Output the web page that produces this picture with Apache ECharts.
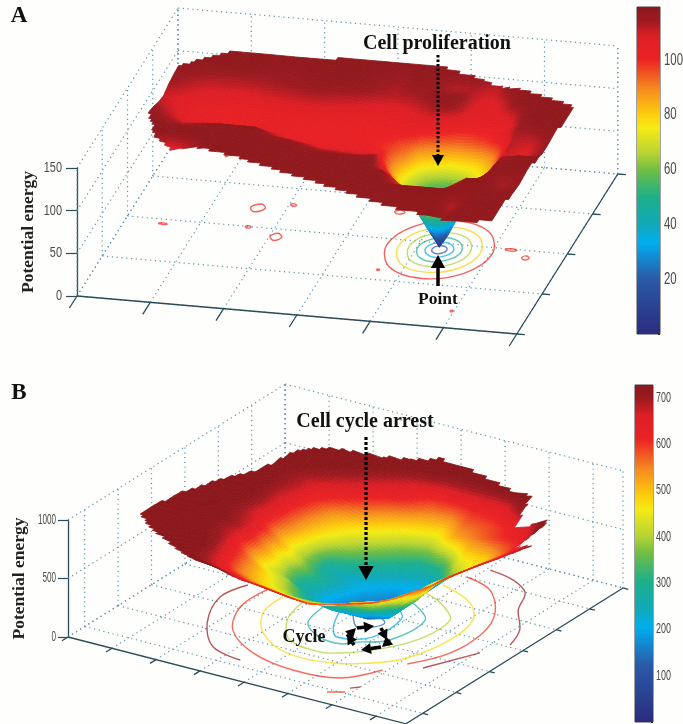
<!DOCTYPE html>
<html>
<head>
<meta charset="utf-8">
<script src="https://cdn.jsdelivr.net/npm/echarts@6/dist/echarts.min.js"></script>
<style>
html,body{margin:0;padding:0;background:#fefefd}
#main{width:683px;height:724px;filter:blur(0.45px)}
</style>
</head>
<body>
<div id="main"></div>
<script>
// ---------- Panel A data ----------
const uTicksA = [0,1,2,3,4,5,6];
const vTicksA = [0,1,2,3,4];
const zTicksA = [0,50,100,150];
const colorbarTicksA = [20,40,60,80,100];
const colorMaxA = 119.4;
const uGridA = [0.25,0.75,1.25,1.75,2.25,2.75,3.25,3.5,3.75,3.9,4.05,4.2,4.31,4.42,4.55,4.7,4.9,5.15,5.4,5.75];
const vGridA = [3.8,3.4,3.1,2.9,2.7,2.5,2.3,2.15,1.98,1.84,1.7,1.5,1.2,0.9,0.6,0.1];
const zGridA = [
[118,118,118,118,118,118,118,118,118,118,118,118,118,118,118,118,118,118,118,118],
[118,118,118,116,118,118,114,117,116,113,112,113,112,110,110,115,118,118,118,118],
[116,112,112,114,116,115,112,113,116,117,117,115,110,107,106,108,116,118,118,118],
[114,108,107,110,112,110,107,108,112,115,116,113,108,106,105,107,108,118,118,118],
[110,105,104,105,106,105,104,105,107,108,106,104,103,102,102,103,103,116,118,118],
[112,104,103,104,103,103,103,103,103,100,98,96,94,94,96,98,104,114,115,118],
[116,104,103,104,103,103,102,100,94,85,82,76,74,75,78,80,90,112,110,118],
[118,108,110,106,103,103,102,98,90,76,63,55,52,54,62,73,85,112,108,118],
[118,114,118,118,104,103,104,100,82,66,50,30,22,30,44,64,80,110,108,118],
[118,118,118,118,114,106,106,104,78,62,42,17,3,17,38,58,82,114,118,118],
[118,118,118,118,118,112,110,112,84,66,50,30,22,30,44,64,88,116,118,118],
[118,106,118,118,118,118,118,118,100,80,66,56,54,56,64,76,96,118,118,118],
[118,118,118,118,118,118,118,118,118,110,100,92,90,92,96,108,118,118,113,118],
[118,118,118,118,118,118,118,118,118,118,118,118,118,118,118,118,118,118,118,118],
[118,118,118,118,118,118,118,118,118,118,118,118,118,118,118,118,112,118,118,118],
[118,118,118,118,118,118,118,118,118,118,118,118,118,118,118,118,118,118,118,118]
];
const surfaceEdgeA = [[0.26,2.09],[0.26,2.7],[0.26,3.29],[0.83,3.71],[2.31,3.77],[3.67,3.79],[4.28,3.62],[4.70,3.49],[5.71,3.12],[5.59,0.61],[5.55,0.22],[5.02,0.18],[4.14,0.37],[3.36,0.67],[2.73,0.89],[1.81,1.22],[0.79,1.51],[0.52,1.6]];
const contourLevelsA = [100,80,65,50,33,17];
const contourRingsA = [
[[5.03,1.84],[4.82,2.35],[4.31,2.56],[3.80,2.35],[3.59,1.84],[3.80,1.33],[4.31,1.12],[4.82,1.33]],
[[4.87,1.84],[4.71,2.24],[4.31,2.40],[3.91,2.24],[3.75,1.84],[3.91,1.44],[4.31,1.28],[4.71,1.44]],
[[4.73,1.84],[4.61,2.14],[4.31,2.26],[4.01,2.14],[3.89,1.84],[4.01,1.54],[4.31,1.42],[4.61,1.54]],
[[4.61,1.84],[4.52,2.05],[4.31,2.14],[4.10,2.05],[4.01,1.84],[4.10,1.63],[4.31,1.54],[4.52,1.63]],
[[4.50,1.84],[4.44,1.97],[4.31,2.03],[4.18,1.97],[4.12,1.84],[4.18,1.71],[4.31,1.65],[4.44,1.71]],
[[4.41,1.84],[4.38,1.91],[4.31,1.94],[4.24,1.91],[4.21,1.84],[4.24,1.77],[4.31,1.74],[4.38,1.77]]
];
const contourSpotsA = [
[[1.72,2.46],[1.64,2.56],[1.52,2.46],[1.60,2.36]],
[[2.17,1.81],[2.09,1.90],[2.01,1.81],[2.09,1.72]],
[[1.69,1.99],[1.65,2.02],[1.61,1.99],[1.65,1.96]],
[[0.58,1.89],[0.52,1.91],[0.46,1.89],[0.52,1.87]],
[[2.10,2.60],[2.06,2.63],[2.02,2.60],[2.06,2.57]],
[[0.81,3.63],[0.79,3.65],[0.77,3.63],[0.79,3.61]],
[[3.56,2.65],[3.49,2.70],[3.42,2.65],[3.49,2.60]],
[[5.32,1.98],[5.24,2.01],[5.16,1.98],[5.24,1.95]],
[[5.54,1.82],[5.49,1.87],[5.44,1.82],[5.49,1.77]],
[[3.70,1.24],[3.68,1.26],[3.66,1.24],[3.68,1.22]],
[[4.99,0.41],[4.97,0.43],[4.95,0.41],[4.97,0.39]]
];
// ---------- Panel B data ----------
const uTicksB = [0,1,2,3,4,5,6,7];
const vTicksB = [0.5,1.5,2.5,3.5,4.5,5.5,6.5];
const zTicksB = [0,500,1000];
const colorbarTicksB = [100,200,300,400,500,600,700];
const colorMaxB = 728;
const uGridB = [0.25,1.25,2,2.75,3.25,3.75,4.25,4.73,5.2,5.7,6.2,6.7,7.2,7.7];
const vGridB = [6.15,5.5,5.1,4.7,4.3,3.9,3.5,3.2,2.95,2.75,2.55,2.3,2,1.5,1,0.6,0.2];
const zGridB = [
[800,800,800,800,800,800,800,800,800,800,800,800,800,800],
[800,800,780,730,690,650,620,625,630,640,720,800,800,800],
[800,780,725,670,635,605,540,520,580,590,620,680,800,800],
[800,740,670,620,570,500,450,420,520,560,600,620,760,800],
[800,740,660,530,470,430,350,280,300,470,480,590,700,800],
[800,760,640,500,415,330,260,220,190,360,487,607,709,800],
[800,780,640,470,270,230,210,170,240,393,513,641,760,800],
[800,765,633,440,300,250,180,150,240,410,538,658,778,800],
[800,750,660,480,340,230,165,130,170,340,550,667,795,800],
[800,760,670,450,290,220,150,120,170,350,550,690,800,800],
[800,770,680,480,300,220,170,170,250,380,560,700,800,800],
[800,760,670,450,390,260,230,270,320,470,590,718,800,800],
[800,780,690,520,430,330,340,380,440,500,600,730,800,800],
[800,760,730,560,490,460,440,460,520,570,650,760,800,800],
[800,790,730,660,620,600,570,560,600,650,718,800,800,800],
[800,800,790,780,720,700,700,660,680,710,780,800,800,800],
[800,800,800,800,800,800,780,770,790,800,800,800,800,800]
];
const surfaceEdgeB = [[0.36,1.68],[0.49,2.8],[0.86,3.81],[0.98,4.16],[1.18,5.09],[1.41,5.39],[1.91,5.63],[3.2,5.94],[3.8,6.13],[4.59,6.07],[5.74,5.88],[6.11,5.84],[6.3,5.08],[6.91,5.17],[7.07,5.02],[6.79,4.44],[7.31,4.29],[6.83,3.93],[6.78,3.71],[6.3,2.64],[5.73,1.37],[4.63,0.84],[3.47,0.87],[2.51,0.65],[1.44,1.07],[0.96,1.29]];
const contourLevelsB = [700,700,700,700,600,600,600,480,400,280,200,130];
const contourPathsB = [
[[1.56,3.33],[1.42,2.68],[1.88,1.69],[2.59,0.93],[3.37,0.72]],
[[5.08,5.95],[5.71,5.81],[6.23,5.48],[6.56,4.84],[7.10,4.17],[7.33,3.58]],
[[6.52,2.04],[7.05,3.05]],
[[5.86,0.72],[6.00,0.85]],
[[1.99,3.33],[2.00,2.52],[2.48,1.67],[3.40,1.07],[4.47,0.84],[5.44,0.98],[5.92,1.62]],
[[6.16,2.04],[6.57,2.78],[6.58,3.75],[6.26,4.54],[5.59,5.27],[4.88,5.51]],
[[5.59,0.39],[5.88,0.55]],
[[2.43,3.23],[2.52,2.52],[3.04,1.84],[3.95,1.36],[4.94,1.43],[5.58,1.77],[6.00,2.24],[6.23,3.22],[6.09,4.10],[5.60,4.66],[4.70,5.03]],
[[2.88,3.23],[3.10,2.48],[3.65,1.83],[4.45,1.69],[4.80,1.83],[5.25,2.21],[5.70,2.94],[5.72,3.90],[5.12,4.40],[4.56,4.62]],
[[3.34,3.24],[3.50,2.57],[4.06,2.19],[4.56,2.14],[4.78,2.34],[5.26,2.70],[5.32,3.69],[4.68,4.16]],
[[3.69,3.29],[4.02,2.65],[4.33,2.34],[4.91,2.65],[4.89,3.56],[4.44,3.94]],
[[3.97,3.30],[4.40,2.85],[4.66,2.99],[4.74,3.24],[4.41,3.44]]
];

// ---------- Colour scale (as printed on the colour bars) ----------
const colorStops = [
[0,'#2a2c7e'],[0.17,'#2a5aa8'],[0.28,'#00aeef'],[0.335,'#10a9b8'],[0.42,'#1fb08a'],
[0.5,'#6ebd45'],[0.55,'#b5d334'],[0.63,'#f5ea14'],[0.67,'#fdcf0c'],[0.75,'#f58a20'],
[0.84,'#ec2224'],[0.91,'#dc1f26'],[0.96,'#9c1a20'],[1,'#8c181c']
];
const stopRGB = colorStops.map(s=>[s[0],parseInt(s[1].slice(1,3),16),parseInt(s[1].slice(3,5),16),parseInt(s[1].slice(5,7),16)]);
function colorFor(t){
  t=Math.max(0,Math.min(1,t));
  for(let i=1;i<stopRGB.length;i++){
    if(t<=stopRGB[i][0]){
      const a=stopRGB[i-1],b=stopRGB[i],f=(t-a[0])/(b[0]-a[0]);
      return 'rgb('+[1,2,3].map(k=>Math.round(a[k]+(b[k]-a[k])*f)).join(',')+')';
    }
  }
  return colorStops[colorStops.length-1][1];
}

// ---------- 3-D view of each panel: the box as MATLAB projected it ----------
const viewA = {ox:77,oy:296,ux:73.3,uy:6.33,vx:25.25,vy:-40,zy:-128/150,uMax:6,vMax:4,zMax:150,cMax:colorMaxA,
  uTicks:uTicksA,vTicks:vTicksA,zTicks:zTicksA,tickV:-0.3,tickU:0.11};
const viewB = {ox:68,oy:637,ux:44,uy:11.3,vx:33.4,vy:-20.9,zy:-0.117,uMax:7.68,vMax:6.5,zMax:1000,cMax:colorMaxB,
  uTicks:uTicksB,vTicks:vTicksB,zTicks:zTicksB,tickV:-0.18,tickU:0.12};
function project(view,u,v,z){
  return [view.ox+view.ux*u+view.vx*v, view.oy+view.uy*u+view.vy*v+view.zy*z];
}
function insideEdge(edge,u,v){
  let c=false;
  for(let i=0,j=edge.length-1;i<edge.length;j=i++){
    const a=edge[i],b=edge[j];
    if((a[1]>v)!==(b[1]>v) && u<(b[0]-a[0])*(v-a[1])/(b[1]-a[1])+a[0]) c=!c;
  }
  return c;
}

const baseSeries={type:'custom',coordinateSystem:'cartesian2d',xAxisIndex:0,yAxisIndex:0,silent:true,animation:false,clip:false,progressive:0};

function boxSegments(w){
  const s=[],dot='dot',ax='axis';
  w.uTicks.forEach(u=>{
    s.push([u,0,0,u,w.vMax,0,dot]);
    s.push([u,w.vMax,0,u,w.vMax,w.zMax,dot]);
    s.push([u,0,0,u,w.tickV,0,ax]);
  });
  w.vTicks.forEach(v=>{
    s.push([0,v,0,w.uMax,v,0,dot]);
    s.push([0,v,0,0,v,w.zMax,dot]);
    s.push([w.uMax,v,0,w.uMax+w.tickU,v,0,ax]);
  });
  w.zTicks.forEach(z=>{
    s.push([0,0,z,0,w.vMax,z,dot]);
    s.push([0,w.vMax,z,w.uMax,w.vMax,z,dot]);
  });
  s.push([0,w.vMax,0,0,w.vMax,w.zMax,dot]);
  s.push([w.uMax,w.vMax,0,w.uMax,w.vMax,w.zMax,dot]);
  s.push([0,0,0,w.uMax,0,0,ax]);
  s.push([w.uMax,0,0,w.uMax,w.vMax,0,ax]);
  return s;
}
function boxSeries(w){
  const segs=boxSegments(w);
  return Object.assign({},baseSeries,{
    data:segs.map((s,i)=>[i]),
    renderItem:(p,api)=>{
      const s=segs[api.value(0)];
      const a=api.coord(project(w,s[0],s[1],s[2])),b=api.coord(project(w,s[3],s[4],s[5]));
      const isDot=s[6]==='dot';
      return {type:'line',silent:true,shape:{x1:a[0],y1:a[1],x2:b[0],y2:b[1]},
        style:isDot?{stroke:'#5f93a6',lineWidth:1.2,lineDash:[1.2,3.6]}:{stroke:'#2c4d57',lineWidth:1.3}};
    }
  });
}
function contourSeries(w,paths,levels,closed){
  return Object.assign({},baseSeries,{
    data:paths.map((s,i)=>[i]),
    renderItem:(p,api)=>{
      const i=api.value(0);
      const pts=paths[i].map(q=>api.coord(project(w,q[0],q[1],0)));
      return {type:closed?'polygon':'polyline',silent:true,shape:{points:pts,smooth:closed?0.37:0.35},
        style:{fill:'none',stroke:colorFor(levels[i]/w.cMax),lineWidth:1.4,opacity:0.72}};
    }
  });
}
function surfaceSeries(w,uGrid,vGrid,zGrid,edge){
  const cells=[];
  for(let j=0;j<vGrid.length-1;j++) for(let i=0;i<uGrid.length-1;i++) cells.push([i,j]);
  return Object.assign({},baseSeries,{
    data:cells,
    renderItem:(p,api)=>{
      const i=api.value(0),j=api.value(1);
      const u0=uGrid[i],u1=uGrid[i+1],v0=vGrid[j],v1=vGrid[j+1];
      const z00=zGrid[j][i],z10=zGrid[j][i+1],z01=zGrid[j+1][i],z11=zGrid[j+1][i+1];
      const P=(a,b)=>project(w,u0+(u1-u0)*a,v0+(v1-v0)*b,
        z00*(1-a)*(1-b)+z10*a*(1-b)+z01*(1-a)*b+z11*a*b);
      const len=(q,r)=>Math.hypot(q[0]-r[0],q[1]-r[1]);
      const nu=Math.min(16,Math.max(1,Math.ceil(Math.max(len(P(0,0),P(1,0)),len(P(0,1),P(1,1)))/3.5)));
      const nv=Math.min(16,Math.max(1,Math.ceil(Math.max(len(P(0,0),P(0,1)),len(P(1,0),P(1,1)))/3.5)));
      const kids=[];
      for(let b=0;b<nv;b++) for(let a=0;a<nu;a++){
        const ac=(a+0.5)/nu,bc=(b+0.5)/nv;
        if(!insideEdge(edge,u0+(u1-u0)*ac,v0+(v1-v0)*bc)) continue;
        const zc=z00*(1-ac)*(1-bc)+z10*ac*(1-bc)+z01*(1-ac)*bc+z11*ac*bc;
        const c=colorFor(zc/w.cMax);
        const pts=[P(a/nu,b/nv),P((a+1)/nu,b/nv),P((a+1)/nu,(b+1)/nv),P(a/nu,(b+1)/nv)].map(q=>api.coord(q));
        kids.push({type:'polygon',silent:true,shape:{points:pts},style:{fill:c,stroke:c,lineWidth:0.8}});
      }
      return {type:'group',silent:true,children:kids};
    }
  });
}
function colorBarSeries(axisIndex,maxValue){
  return {type:'bar',xAxisIndex:axisIndex,yAxisIndex:axisIndex,silent:true,animation:false,barWidth:'100%',data:[maxValue],
    itemStyle:{color:{type:'linear',x:0,y:1,x2:0,y2:0,colorStops:colorStops.map(s=>({offset:s[0],color:s[1]}))}}};
}
// Tick labels are set in a squeezed sans, as in the printed figure.
function tickLabelSeries(axisIndex,ticks,dx,align,size,squeeze){
  return Object.assign({},baseSeries,{
    xAxisIndex:axisIndex,yAxisIndex:axisIndex,
    data:ticks.map(t=>[0,t]),
    renderItem:(p,api)=>{
      const t=api.value(1),q=api.coord([0,t]);
      return {type:'text',silent:true,x:q[0]+dx,y:q[1],scaleX:squeeze,
        style:{text:String(t),align:align,verticalAlign:'middle',fontFamily:sans,fontSize:size,fill:'#4a4a4a'}};
    }
  });
}

// ---------- Annotations ----------
const serif='"Liberation Serif",serif', sans='"Liberation Sans",sans-serif';
function label(text,x,y,size){
  return {type:'text',z:100,silent:true,style:{text:text,x:x,y:y,fontFamily:serif,fontWeight:'bold',fontSize:size,fill:'#111',align:'center',verticalAlign:'middle'}};
}
function arrow(x1,y1,x2,y2,width,head,dash){
  const a=Math.atan2(y2-y1,x2-x1),bx=x2-Math.cos(a)*head,by=y2-Math.sin(a)*head;
  const nx=-Math.sin(a)*head*0.55,ny=Math.cos(a)*head*0.55;
  return [
    {type:'line',z:100,silent:true,shape:{x1:x1,y1:y1,x2:bx,y2:by},style:{stroke:'#000',lineWidth:width,lineDash:dash||null}},
    {type:'polygon',z:100,silent:true,shape:{points:[[x2,y2],[bx+nx,by+ny],[bx-nx,by-ny]]},style:{fill:'#000'}}
  ];
}
const graphics=[
  label('A',19,16,23),label('B',19,393,23),
  label('Cell proliferation',437,44,20),label('Point',438,299,17.5),
  label('Cell cycle arrest',365,422,20),label('Cycle',304,637,18)
].concat(
  arrow(438,55,438,166,3,11,[2.5,2]),
  arrow(438,286,438,255,3.5,13),
  arrow(366,437,366,580,3.2,14,[3,2]),
  arrow(357,628,374,626,3.6,10),
  arrow(381,628,387,640,3.6,10),
  arrow(390,640,382,647,3.6,10),
  arrow(381,647,361,650,3.6,10),
  arrow(354,645,347,634,3.6,10),
  arrow(347,637,356,628,3.6,10)
);

function zAxis(gridIndex,max,interval,tick){
  return {gridIndex:gridIndex,type:'value',min:0,max:max,interval:interval,position:'left',
    axisLine:{show:true,onZero:false,lineStyle:{color:'#2c4d57',width:1.3}},
    axisTick:{show:true,length:tick,lineStyle:{color:'#2c4d57',width:1.2}},
    axisLabel:{show:false},
    splitLine:{show:false},
    name:'Potential energy',nameLocation:'middle',nameRotate:90,nameGap:40,
    nameTextStyle:{fontFamily:serif,fontWeight:'bold',fontSize:17.5,color:'#222'}};
}
function barAxis(gridIndex,max,interval){
  return {gridIndex:gridIndex,type:'value',min:0,max:max,interval:interval,position:'right',
    axisLine:{show:false},axisTick:{show:true,inside:true,length:2,lineStyle:{color:'#222'}},
    axisLabel:{show:false},splitLine:{show:false}};
}
const hiddenX=(g,type)=>({gridIndex:g,type:type||'value',show:false,data:type?['']:undefined,min:type?undefined:0,max:type?undefined:1});

const option={
  backgroundColor:'#fefefd',
  animation:false,
  grid:[
    {left:0,top:0,width:683,height:724,show:false},
    {left:77,top:168,width:1,height:128,show:false},
    {left:68,top:520,width:1,height:117,show:false},
    {left:637,top:7,width:23,height:327,show:true,borderColor:'#444',borderWidth:1},
    {left:635,top:385,width:18,height:337,show:true,borderColor:'#444',borderWidth:1}
  ],
  xAxis:[
    {gridIndex:0,type:'value',min:0,max:683,show:false},
    hiddenX(1),hiddenX(2),hiddenX(3,'category'),hiddenX(4,'category')
  ],
  yAxis:[
    {gridIndex:0,type:'value',min:0,max:724,inverse:true,show:false},
    zAxis(1,150,50,11),
    zAxis(2,1000,500,10),
    barAxis(3,colorMaxA,20),
    barAxis(4,colorMaxB,100)
  ],
  graphic:{elements:graphics},
  series:[
    boxSeries(viewA),
    contourSeries(viewA,contourRingsA,contourLevelsA,true),
    contourSeries(viewA,contourSpotsA,contourSpotsA.map(()=>100),true),
    surfaceSeries(viewA,uGridA,vGridA,zGridA,surfaceEdgeA),
    boxSeries(viewB),
    contourSeries(viewB,contourPathsB,contourLevelsB,false),
    surfaceSeries(viewB,uGridB,vGridB,zGridB,surfaceEdgeB),
    colorBarSeries(3,colorMaxA),
    colorBarSeries(4,colorMaxB),
    tickLabelSeries(1,zTicksA,-15,'right',14,0.78),
    tickLabelSeries(2,zTicksB,-12,'right',14,0.58),
    tickLabelSeries(3,colorbarTicksA,15.5,'left',16,0.71),
    tickLabelSeries(4,colorbarTicksB,12,'left',14,0.64)
  ]
};
const chart=echarts.init(document.getElementById('main'),null,{renderer:'canvas',width:683,height:724});
chart.setOption(option);
</script>
</body>
</html>
